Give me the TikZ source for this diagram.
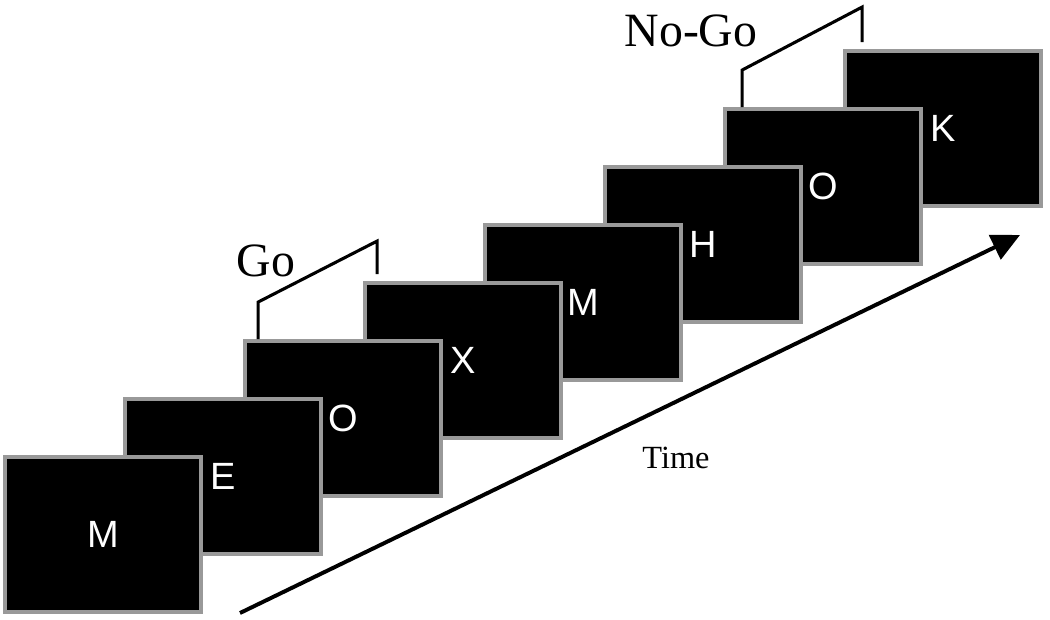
\documentclass[tikz,border=0pt]{standalone}
\usepackage{fontspec}
\setmainfont{Liberation Serif}
\setsansfont{Liberation Sans}
\usetikzlibrary{calc,arrows.meta}

\tikzset{
  screen/.style={draw=gray!80, line width=2.7pt, fill=black, text=white,
    minimum width=4.9cm, minimum height=3.875cm, inner sep=0pt,
    font=\sffamily\fontsize{27}{30}\selectfont},
  bracket/.style={line width=2.2pt, line join=miter},
  cue/.style={font=\fontsize{34}{36}\selectfont},
}

\begin{document}
\begin{tikzpicture}[x=0.025cm, y=-0.025cm]
\useasboundingbox (0,0) rectangle (1050,619);

% Stimulus screens, drawn from the back to the front
\foreach \i/\ltr in {7/K,6/O,5/H,4/M,3/X,2/O,1/E,0/M}{
  \node[screen] (b\i) at (103+120*\i, 534.5-58*\i) {\ltr};
}

% Go and No-Go brackets
\draw[bracket] ($(b2.north west)+(15,0)$) -- ++(0,-37)
  -- ($(b3.north west)+(14,-40)$) -- ++(0,33);
\node[cue] (go) at (266,261) {Go};

\draw[bracket] ($(b6.north west)+(19,0)$) -- ++(0,-37)
  -- ($(b7.north west)+(19,-42)$) -- ++(0,35);
\node[cue] (nogo) at (691,31) {No-Go};

% Time axis
\coordinate (tstart) at (240,613);
\coordinate (tend) at (1020,235);
\draw[line width=2.8pt, -{Triangle[length=20pt,width=19pt]}] (tstart) -- (tend);
\node[font=\fontsize{23}{26}\selectfont] (time) at (676,458) {Time};

\end{tikzpicture}
\end{document}
